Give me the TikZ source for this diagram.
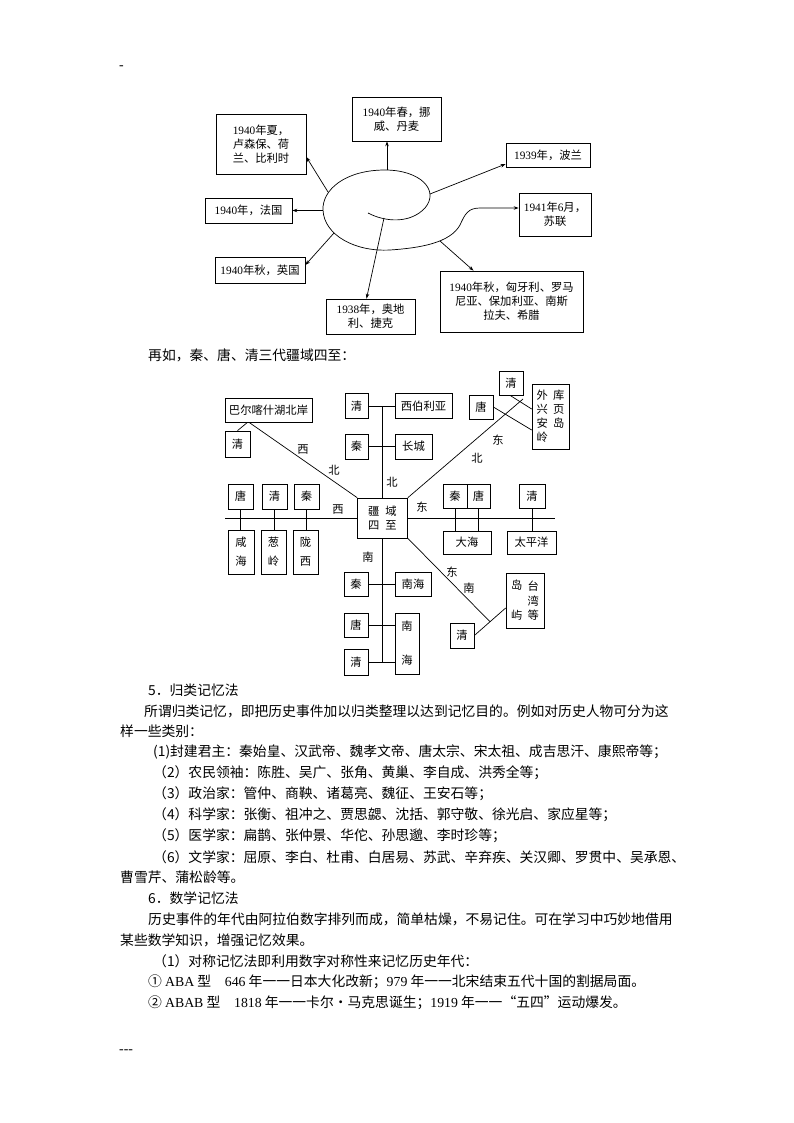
\documentclass[tikz,border=0pt]{standalone}
\usepackage{fontspec}
\setmainfont{Liberation Serif}
\newfontfamily\cjk{Noto Sans CJK SC}
\newfontfamily\lat{Liberation Serif}
\usetikzlibrary{calc,arrows.meta}
\newcommand\bodyfont{\fontsize{13.8}{16}\selectfont\cjk}
\newcommand\dfont{\fontsize{11.3}{14}\selectfont\cjk}
\newcommand\nm[1]{{\lat #1}}
\begin{document}
\begin{tikzpicture}[x=1pt,y=-1pt,
  bx/.style={draw, line width=0.7pt, inner sep=0pt, font=\dfont, align=center},
  arr/.style={-{Stealth[length=5pt,width=3.5pt]}, line width=0.7pt},
  ln/.style={line width=0.7pt},
  lbl/.style={font=\dfont, inner sep=0pt},
  txt/.style={font=\bodyfont, anchor=west, inner sep=0pt}]
\useasboundingbox (0,0) rectangle (794,1123);
\fill[white] (0,0) rectangle (794,1123);

\node[txt] (dash1) at (119,68) {\lat -};

% ---------- top diagram ----------
\node[bx,minimum width=89pt,minimum height=44pt] (spring) at (396.5,119) {\nm{1940}年春，挪\\威、丹麦};
\node[bx,minimum width=90pt,minimum height=60pt] (summer) at (261,144) {\nm{1940}年夏，\\卢森保、荷\\兰、比利时};
\node[bx,minimum width=87pt,minimum height=25pt] (france) at (248.5,210.5) {\nm{1940}年，法国};
\node[bx,minimum width=90pt,minimum height=26pt] (britain) at (260,270) {\nm{1940}年秋，英国};
\node[bx,minimum width=89pt,minimum height=35pt] (austria) at (370.5,316.5) {\nm{1938}年，奥地\\利、捷克};
\node[bx,minimum width=84pt,minimum height=24pt] (poland) at (548,155) {\nm{1939}年，波兰};
\node[bx,minimum width=72pt,minimum height=43pt] (ussr) at (555,214.5) {\nm{1941}年\nm{6}月，\\苏联};
\node[bx,minimum width=143pt,minimum height=61pt] (hungary) at (511.5,301.5) {\nm{1940}年秋，匈牙利、罗马\\尼亚、保加利亚、南斯\\拉夫、希腊};

\coordinate (s0) at (368,213);
\draw[arr] (s0) .. controls (385,222) and (410,224) .. (425,208)
  .. controls (440,190) and (420,170) .. (385,170)
  .. controls (345,170) and (322,190) .. (323,210)
  .. controls (324,235) and (355,252) .. (390,250)
  .. controls (420,248) and (450,243) .. (460,225)
  .. controls (465,214) and (468,208) .. (480,208)
  -- ([yshift=6.5pt]ussr.west);

\coordinate (pTop) at (387,170.2);
\coordinate (pSummer) at (328,192);
\coordinate (pFrance) at (323,210.5);
\coordinate (pBritain) at (334,233);
\coordinate (pAustria) at (384,218);
\coordinate (pPoland) at (430,194);
\coordinate (pHung) at (440,241);
\draw[arr] (pTop) -- (pTop |- spring.south);
\draw[arr] (pSummer) -- ([yshift=-13pt]summer.east);
\draw[arr] (pFrance) -- (france.east);
\draw[arr] (pBritain) -- ([yshift=5pt]britain.east);
\draw[arr] (pAustria) -- ([xshift=-4pt]austria.north);
\draw[arr] (pPoland) -- ([yshift=-9pt]poland.west);
\draw[arr] (pHung) -- ([xshift=-38pt]hungary.north);

\node[txt] (t0) at (148,355) {再如，秦、唐、清三代疆域四至：};

% ---------- middle diagram ----------
\node[bx,minimum width=50pt,minimum height=40pt] (jy) at (382.5,518) {疆\hspace{6pt}域\\四\hspace{6pt}至};
\node[bx,minimum width=87pt,minimum height=24pt] (bal) at (268.5,410) {巴尔喀什湖北岸};
\node[bx,minimum width=25pt,minimum height=26pt] (q1) at (237.5,444) {清};
% north
\node[bx,minimum width=23pt,minimum height=25pt] (nq) at (356.5,406) {清};
\node[bx,minimum width=57pt,minimum height=25pt] (xbly) at (423.5,406) {西伯利亚};
\node[bx,minimum width=23pt,minimum height=25pt] (nqin) at (356.5,446.5) {秦};
\node[bx,minimum width=37pt,minimum height=25pt] (cc) at (413.5,446.5) {长城};
% west
\node[bx,minimum width=25pt,minimum height=25pt] (wt1) at (240.5,496.5) {唐};
\node[bx,minimum width=25pt,minimum height=25pt] (wt2) at (274.5,496.5) {清};
\node[bx,minimum width=25pt,minimum height=25pt] (wt3) at (306.5,496.5) {秦};
\node[bx,minimum width=26pt,minimum height=44pt] (wb1) at (241,552) {咸\\[5pt]海};
\node[bx,minimum width=25pt,minimum height=44pt] (wb2) at (273.5,552) {葱\\[5pt]岭};
\node[bx,minimum width=25pt,minimum height=44pt] (wb3) at (305.5,552) {陇\\[5pt]西};
% east
\node[bx,minimum width=24pt,minimum height=24pt] (et1) at (455,496) {秦};
\node[bx,minimum width=23pt,minimum height=24pt] (et2) at (478.5,496) {唐};
\node[bx,minimum width=26pt,minimum height=24pt] (et3) at (532,496) {清};
\node[bx,minimum width=48pt,minimum height=23pt] (dahai) at (467,542.5) {大海};
\node[bx,minimum width=49pt,minimum height=23pt] (tpy) at (531.5,542.5) {太平洋};
% north-east
\node[bx,minimum width=37pt,minimum height=65pt,align=left] (kuye) at (550.5,416.5) {外\hspace{5pt}库\\兴\hspace{5pt}页\\安\hspace{5pt}岛\\岭};
\node[bx,minimum width=24pt,minimum height=24pt] (neq) at (511,383) {清};
\node[bx,minimum width=24pt,minimum height=24pt] (net) at (481,407) {唐};
% south
\node[bx,minimum width=24pt,minimum height=24pt] (sqin) at (356,584) {秦};
\node[bx,minimum width=36pt,minimum height=24pt] (nh1) at (413,584) {南海};
\node[bx,minimum width=24pt,minimum height=24pt] (stang) at (356,625) {唐};
\node[bx,minimum width=24pt,minimum height=26pt] (sqing) at (356,662) {清};
\node[bx,minimum width=24pt,minimum height=61pt] (nh2) at (407,643.5) {南\\[20pt]海};
% south-east
\node[bx,minimum width=38pt,minimum height=55pt] (dy) at (525,600.5) {\shortstack{岛\\[17pt]屿}\hspace{5pt}\shortstack{台\\[1pt]湾\\[1pt]等}};
\node[bx,minimum width=24pt,minimum height=25pt] (seq) at (462,635.5) {清};

% connectors
\coordinate (wend) at (225,518);
\coordinate (eend) at (555,518);
\coordinate (ntop) at (382.5,406);
\coordinate (sbot) at (382.5,662);
\coordinate (neend) at (523,399);
\draw[ln] (wend) -- (jy.west);
\draw[ln] (jy.east) -- (eend);
\draw[ln] (wt1.south) -- (wt1.south |- wb1.north);
\draw[ln] (wt2.south) -- (wt2.south |- wb2.north);
\draw[ln] (wt3.south) -- (wt3.south |- wb3.north);
\draw[ln] (et1.south) -- (et1.south |- dahai.north);
\draw[ln] (et2.south) -- (et2.south |- dahai.north);
\draw[ln] (et3.south) -- (et3.south |- tpy.north);
\draw[ln] (jy.north) -- (ntop);
\draw[ln] (nq.east) -- (xbly.west);
\draw[ln] (nqin.east) -- (cc.west);
\draw[ln] (jy.south) -- (sbot);
\draw[ln] (sqin.east) -- (nh1.west);
\draw[ln] (stang.east) -- (stang.east -| nh2.west);
\draw[ln] (sqing.east) -- (sqing.east -| nh2.west);
\draw[ln] (jy.north west) -- ([xshift=-19.5pt]bal.south);
\draw[ln] (q1.north) -- ([xshift=-21pt]bal.south);
\draw[ln] (jy.north east) -- (neend);
\draw[ln] ([xshift=-1pt]neq.south) -- ([yshift=7.5pt]kuye.west);
\draw[ln] (net.east) -- ([yshift=-13.5pt]kuye.west);
\draw[ln] (seq.east) -- ([yshift=-7.5pt]dy.west);
\draw[ln] (jy.south east) -- ($(seq.east)!0.5!([yshift=-7.5pt]dy.west)$);

% direction labels
\node[lbl] (l1) at (303,450) {西};
\node[lbl] (l2) at (334,470) {北};
\node[lbl] (l3) at (392,482) {北};
\node[lbl] (l4) at (338,510) {西};
\node[lbl] (l5) at (422,507) {东};
\node[lbl] (l6) at (498,440) {东};
\node[lbl] (l7) at (477,458) {北};
\node[lbl] (l8) at (368,557) {南};
\node[lbl] (l9) at (452,572) {东};
\node[lbl] (l10) at (469,588) {南};

% ---------- body text ----------
\node[txt] (b1) at (148,690) {5．归类记忆法};
\node[txt] (b2) at (144,711) {所谓归类记忆，即把历史事件加以归类整理以达到记忆目的。例如对历史人物可分为这};
\node[txt] (b3) at (120,731) {样一些类别：};
\node[txt] (b4) at (153,752) {(1)封建君主：秦始皇、汉武帝、魏孝文帝、唐太宗、宋太祖、成吉思汗、康熙帝等；};
\node[txt] (b5) at (153,773) {（2）农民领袖：陈胜、吴广、张角、黄巢、李自成、洪秀全等；};
\node[txt] (b6) at (153,794) {（3）政治家：管仲、商鞅、诸葛亮、魏征、王安石等；};
\node[txt] (b7) at (153,815) {（4）科学家：张衡、祖冲之、贾思勰、沈括、郭守敬、徐光启、家应星等；};
\node[txt] (b8) at (153,836) {（5）医学家：扁鹊、张仲景、华佗、孙思邈、李时珍等；};
\node[txt] (b9) at (153,857) {（6）文学家：屈原、李白、杜甫、白居易、苏武、辛弃疾、关汉卿、罗贯中、吴承恩、};
\node[txt] (b10) at (120,877) {曹雪芹、蒲松龄等。};
\node[txt] (b11) at (148,898) {6．数学记忆法};
\node[txt] (b12) at (148,919) {历史事件的年代由阿拉伯数字排列而成，简单枯燥，不易记住。可在学习中巧妙地借用};
\node[txt] (b13) at (120,940) {某些数学知识，增强记忆效果。};
\node[txt] (b14) at (153,961) {（1）对称记忆法即利用数字对称性来记忆历史年代：};
\node[txt] (b15) at (148,982) {①\ \nm{ABA} 型\quad\nm{646} 年一一日本大化改新；\nm{979} 年一一北宋结束五代十国的割据局面。};
\node[txt] (b16) at (148,1003) {②\ \nm{ABAB} 型\quad\nm{1818} 年一一卡尔·马克思诞生；\nm{1919} 年一一“五四”运动爆发。};
\node[txt] (b17) at (119,1052) {\lat ---};
\end{tikzpicture}
\end{document}
